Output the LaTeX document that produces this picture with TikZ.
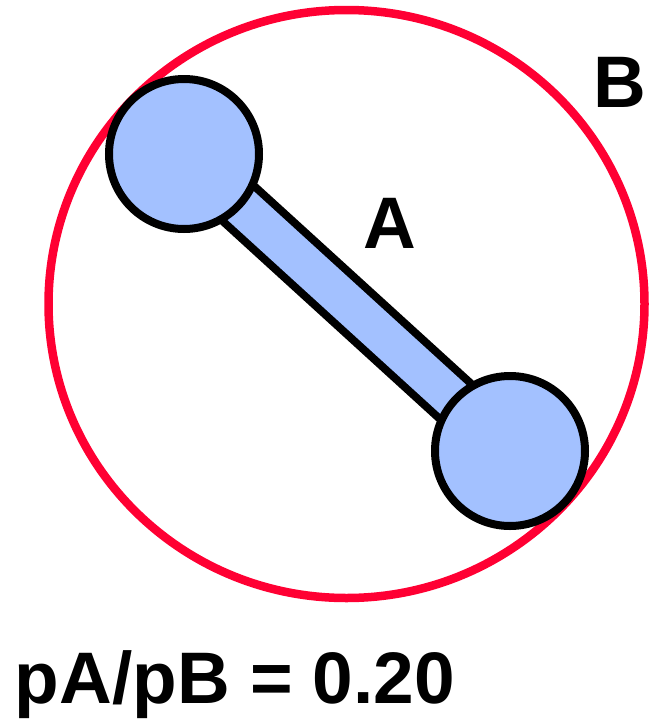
\documentclass[tikz,border=0pt]{standalone}
\usepackage{fontspec}
\setmainfont{Liberation Sans}
\usetikzlibrary{backgrounds,shapes.geometric}
\definecolor{ballcolour}{HTML}{A3C1FF}
\definecolor{shellcolour}{HTML}{FF0033}

\begin{document}
\begin{tikzpicture}[
  x=1pt, y=1pt,
  ball/.style = {circle, fill=ballcolour, draw=black, line width=8pt, minimum size=150pt, inner sep=0pt},
  shell/.style = {ellipse, draw=shellcolour, line width=8.5pt, minimum width=596pt, minimum height=588pt, inner sep=0pt},
  rod_edge/.style = {line width=55pt, draw=black},
  rod_fill/.style = {line width=39pt, draw=ballcolour},
  lab/.style = {font=\fontsize{73}{80}\selectfont\bfseries, anchor=base, inner sep=0pt}
  ]
  \useasboundingbox (0,0) rectangle (649,-723);

  \node[shell] (shell) at (346.5,-304) {};
  \node[ball] (atom_a) at (184,-154) {};
  \node[ball] (atom_b) at (510,-451) {};

  \begin{scope}[on background layer]
    \draw[rod_edge] (atom_a.center) -- (atom_b.center);
    \draw[rod_fill] (atom_a.center) -- (atom_b.center);
  \end{scope}

  \node[lab] (lab_a) at (390,-248) {A};
  \node[lab] (lab_b) at (620,-107) {B};
  \node[lab] (ratio) at (235,-703) {pA/pB = 0.20};

\end{tikzpicture}
\end{document}
